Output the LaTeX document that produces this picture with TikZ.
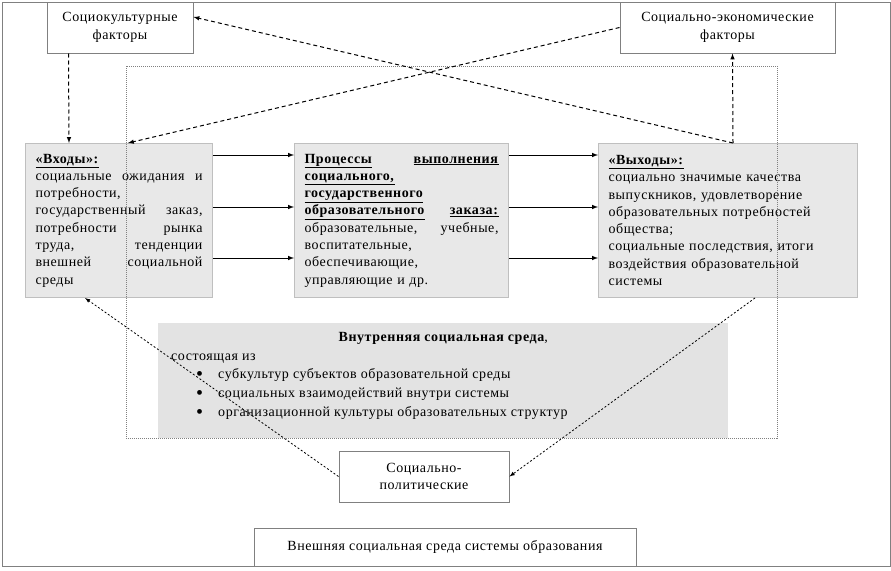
\documentclass[tikz,border=0pt]{standalone}
\usepackage{fontspec}
\setmainfont{Liberation Serif}[LetterSpace=4]
\usepackage{tikz}

\newcommand{\headu}[1]{\underline{\textbf{#1}}}
\newcommand{\bigdot}{\hspace*{25pt}\smash{\raisebox{-1.5pt}{\fontsize{20}{0}\selectfont•}}\hspace{15pt}}
\tikzset{
 factor/.style={draw=gray,fill=white,line width=1pt,align=center,inner sep=0pt},
 block/.style={draw=gray!50,fill=black!9,line width=1pt,anchor=north west,align=left,
   inner xsep=10pt,inner ysep=0pt,minimum height=154pt},
 dasharr/.style={->,dash pattern=on 4pt off 3pt,line width=1pt},
 dotarr/.style={->,dash pattern=on 2pt off 2pt,line width=0.8pt},
}

\begin{document}
\begin{tikzpicture}[>=latex,x=1pt,y=-1pt,font=\fontsize{14}{17.3}\selectfont]
\useasboundingbox (0,0) rectangle (891,570);
\draw[gray,line width=1pt] (2,2) rectangle (890,566);
% factors
\node[factor,minimum width=146pt,minimum height=51pt] (soc) at (120,27.5) {Социокультурные\\факторы};
\node[factor,minimum width=215pt,minimum height=51pt] (econ) at (727.5,27.5) {Социально-экономические\\факторы};
% main blocks
\node[block,text width=167pt] (inp) at (25,143) {\headu{«Входы»:}\\
социальные\hfill ожидания\hfill и\\
потребности,\\
государственный\hfill заказ,\\
потребности\hfill рынка\\
труда,\hfill тенденции\\
внешней\hfill социальной\\
среды};
\node[block,text width=194pt] (proc) at (294,143) {\headu{Процессы}\hfill\headu{выполнения}\\
\headu{социального,}\\
\headu{государственного}\\
\headu{образовательного}\hfill\headu{заказа:}\\
образовательные,\hfill учебные,\\
воспитательные,\\
обеспечивающие,\\
управляющие и др.};
\node[block,text width=239pt] (out) at (598,143) {\headu{«Выходы»:}\\
социально значимые качества\\
выпускников, удовлетворение\\
образовательных потребностей\\
общества;\\
социальные последствия, итоги\\
воздействия образовательной\\
системы};
% inner environment
\node[fill=black!11,anchor=north west,minimum width=570pt,minimum height=115pt,inner sep=0pt] (inner) at (158,323) {};
\node[anchor=north west,align=left,inner sep=0pt] (intxt) at (171,332) {\makebox[544pt]{\textbf{Внутренняя социальная среда},}\\[1.5pt]
состоящая из\\[1.5pt]
\bigdot субкультур субъектов образовательной среды\\[1.5pt]
\bigdot социальных взаимодействий внутри системы\\[1.5pt]
\bigdot организационной культуры образовательных структур};
\draw[gray,dash pattern=on 1pt off 1pt,line width=0.8pt] (126,66) rectangle (777,438);
% outer factors
\node[factor,minimum width=170pt,minimum height=51pt] (pol) at (424,476.5) {Социально-\\политические};
\node[factor,minimum width=382pt,minimum height=38pt] (ext) at (445,547) {Внешняя социальная среда системы образования};
% connectors
\foreach \dy in {12,64,115}{
  \draw[->,line width=1pt] ([yshift=-\dy pt]inp.north east) -- ([yshift=-\dy pt]proc.north west);
  \draw[->,line width=1pt] ([yshift=-\dy pt]proc.north east) -- ([yshift=-\dy pt]out.north west);
}
\draw[dasharr] ([xshift=22pt]soc.south west) -- ([xshift=44pt]inp.north west);
\draw[dasharr] (econ.west) -- ([xshift=103pt]inp.north west);
\draw[dasharr] ([xshift=135pt]out.north west) -- ([yshift=10.5pt]soc.east);
\draw[dasharr] ([xshift=135pt]out.north west) -- ([xshift=113pt]econ.south west);
\draw[dotarr] (pol.west) -- ([xshift=60pt]inp.south west);
\draw[dotarr] ([xshift=157pt]out.south west) -- (pol.east);
\end{tikzpicture}
\end{document}
